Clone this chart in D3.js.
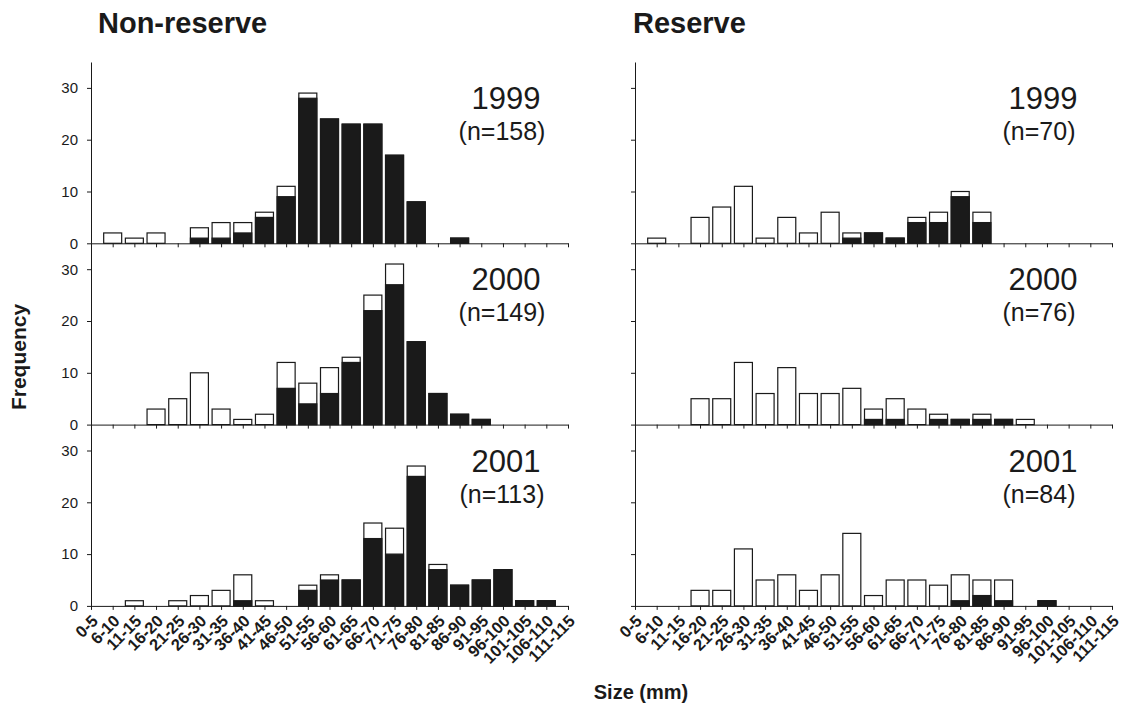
<!DOCTYPE html>
<html>
<head>
<meta charset="utf-8">
<script src="https://cdn.jsdelivr.net/npm/d3@7"></script>
<style>
  body { margin: 0; background: #fff; }
  svg { font-family: Arial, "Liberation Sans", sans-serif; }
</style>
</head>
<body>
<svg class="chart"></svg>
<script>
// size classes (mm)
var sizeClasses = ["0-5", "6-10", "11-15", "16-20", "21-25", "26-30", "31-35", "36-40",
    "41-45", "46-50", "51-55", "56-60", "61-65", "66-70", "71-75", "76-80", "81-85",
    "86-90", "91-95", "96-100", "101-105", "106-110", "111-115"];

var years = ["1999", "2000", "2001"];
var nonReserveN = [158, 149, 113];
var reserveN = [70, 76, 84];
var yTicks = [0, 10, 20, 30];

// total counts (white + black) and black part, per size class
var nonReserve1999Total = [0, 2, 1, 2, 0, 3, 4, 4, 6, 11, 29, 24, 23, 23, 17, 8, 0, 1, 0, 0, 0, 0, 0];
var nonReserve1999Dark  = [0, 0, 0, 0, 0, 1, 1, 2, 5, 9, 28, 24, 23, 23, 17, 8, 0, 1, 0, 0, 0, 0, 0];
var nonReserve2000Total = [0, 0, 0, 3, 5, 10, 3, 1, 2, 12, 8, 11, 13, 25, 31, 16, 6, 2, 1, 0, 0, 0, 0];
var nonReserve2000Dark  = [0, 0, 0, 0, 0, 0, 0, 0, 0, 7, 4, 6, 12, 22, 27, 16, 6, 2, 1, 0, 0, 0, 0];
var nonReserve2001Total = [0, 0, 1, 0, 1, 2, 3, 6, 1, 0, 4, 6, 5, 16, 15, 27, 8, 4, 5, 7, 1, 1, 0];
var nonReserve2001Dark  = [0, 0, 0, 0, 0, 0, 0, 1, 0, 0, 3, 5, 5, 13, 10, 25, 7, 4, 5, 7, 1, 1, 0];

var reserve1999Total = [0, 1, 0, 5, 7, 11, 1, 5, 2, 6, 2, 2, 1, 5, 6, 10, 6, 0, 0, 0, 0, 0, 0];
var reserve1999Dark  = [0, 0, 0, 0, 0, 0, 0, 0, 0, 0, 1, 2, 1, 4, 4, 9, 4, 0, 0, 0, 0, 0, 0];
var reserve2000Total = [0, 0, 0, 5, 5, 12, 6, 11, 6, 6, 7, 3, 5, 3, 2, 1, 2, 1, 1, 0, 0, 0, 0];
var reserve2000Dark  = [0, 0, 0, 0, 0, 0, 0, 0, 0, 0, 0, 1, 1, 0, 1, 1, 1, 1, 0, 0, 0, 0, 0];
var reserve2001Total = [0, 0, 0, 3, 3, 11, 5, 6, 3, 6, 14, 2, 5, 5, 4, 6, 5, 5, 0, 1, 0, 0, 0];
var reserve2001Dark  = [0, 0, 0, 0, 0, 0, 0, 0, 0, 0, 0, 0, 0, 0, 0, 1, 2, 1, 0, 1, 0, 0, 0];

var columns = [
    { title: "Non-reserve", left: 91, titleX: 98, n: nonReserveN, showLabels: true,
      totals: [nonReserve1999Total, nonReserve2000Total, nonReserve2001Total],
      darks: [nonReserve1999Dark, nonReserve2000Dark, nonReserve2001Dark] },
    { title: "Reserve", left: 635, titleX: 633, n: reserveN, showLabels: false,
      totals: [reserve1999Total, reserve2000Total, reserve2001Total],
      darks: [reserve1999Dark, reserve2000Dark, reserve2001Dark] }
];

/******** Make Chart ********/
const width = 1127;
const height = 707;
const plotWidth = 477;
const panelTop = 62;
const panelHeight = 181.3;

var svg = d3.select(".chart")
    .attr("width", width)
    .attr("height", height);

var x = d3.scalePoint()
    .domain(sizeClasses)
    .range([0, plotWidth]);

var barWidth = x.step() * 0.83;

var y = d3.scaleLinear()
    .domain([0, 35])
    .range([panelHeight, 0]);

columns.forEach(col => {
    // column title
    svg.append("text")
        .attr("x", col.titleX)
        .attr("y", 33)
        .style("font-size", "29px")
        .style("font-weight", "bold")
        .style("fill", "#1a1a1a")
        .text(col.title);

    years.forEach((year, p) => {
        var top = panelTop + p * panelHeight;
        var g = svg.append("g")
            .attr("transform", `translate(${col.left},${top})`);

        var data = sizeClasses.map((s, i) => ({ size: s, total: col.totals[p][i], dark: col.darks[p][i] }));

        // white (total) bars
        g.selectAll(".bar-total")
            .data(data.filter(d => d.total > 0))
            .enter()
            .append("rect")
            .attr("class", "bar-total")
            .attr("x", d => x(d.size) - barWidth / 2)
            .attr("y", d => y(d.total))
            .attr("width", barWidth)
            .attr("height", d => y(0) - y(d.total))
            .attr("fill", "#fff")
            .attr("stroke", "#1a1a1a")
            .attr("stroke-width", 1.2);

        // black part
        g.selectAll(".bar-dark")
            .data(data.filter(d => d.dark > 0))
            .enter()
            .append("rect")
            .attr("class", "bar-dark")
            .attr("x", d => x(d.size) - barWidth / 2)
            .attr("y", d => y(d.dark))
            .attr("width", barWidth)
            .attr("height", d => y(0) - y(d.dark))
            .attr("fill", "#1a1a1a")
            .attr("stroke", "#1a1a1a")
            .attr("stroke-width", 1.2);

        // x axis
        var xAxis = d3.axisBottom(x)
            .tickSize(4)
            .tickSizeOuter(0)
            .tickFormat(p === 2 ? null : "");
        var xg = g.append("g")
            .attr("class", "axis")
            .attr("transform", `translate(0,${panelHeight})`)
            .call(xAxis);

        if (p === 2) {
            xg.selectAll("text")
                .attr("transform", "rotate(-45)")
                .attr("x", -6)
                .attr("y", 11)
                .attr("dy", "0.35em")
                .style("text-anchor", "end")
                .style("font-size", "16.5px")
                .style("font-weight", "bold")
                .style("fill", "#1a1a1a");
        }

        // y axis
        var yAxis = d3.axisLeft(y)
            .tickValues(yTicks)
            .tickSize(4)
            .tickSizeOuter(0)
            .tickPadding(9)
            .tickFormat(col.showLabels ? d3.format("d") : "");
        g.append("g")
            .attr("class", "axis")
            .call(yAxis)
            .selectAll("text")
            .style("font-size", "15px")
            .style("fill", "#1a1a1a");

        // year and sample size
        var cx = col.left + (col.showLabels ? 415 : 408);
        svg.append("text")
            .attr("x", cx)
            .attr("y", top + 47)
            .style("text-anchor", "middle")
            .style("font-size", "31px")
            .style("fill", "#1a1a1a")
            .text(year);

        svg.append("text")
            .attr("x", cx - 4)
            .attr("y", top + 78)
            .style("text-anchor", "middle")
            .style("font-size", "25px")
            .style("fill", "#1a1a1a")
            .text("(n=" + col.n[p] + ")");
    });
});

svg.selectAll(".axis path, .axis line")
    .attr("stroke", "#1a1a1a");
svg.selectAll(".axis text").attr("font-family", null);

// axis titles
svg.append("text")
    .attr("transform", "translate(26,357) rotate(-90)")
    .style("text-anchor", "middle")
    .style("font-size", "21px")
    .style("font-weight", "bold")
    .style("fill", "#1a1a1a")
    .text("Frequency");

svg.append("text")
    .attr("x", 641)
    .attr("y", 699)
    .style("text-anchor", "middle")
    .style("font-size", "20px")
    .style("font-weight", "bold")
    .style("fill", "#1a1a1a")
    .text("Size (mm)");
</script>
</body>
</html>
